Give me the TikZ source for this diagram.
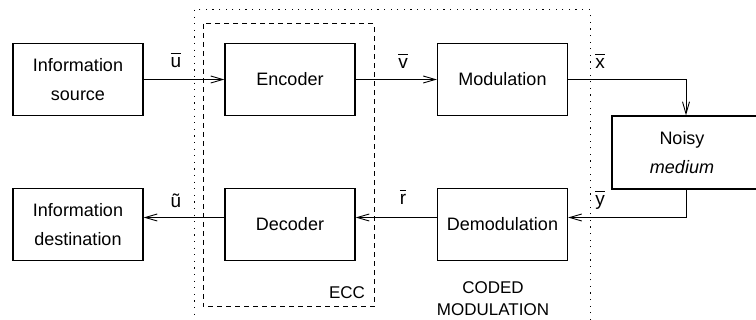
\documentclass[tikz,border=0pt]{standalone}
\usepackage{fontspec}
\setmainfont{Liberation Sans}
\usetikzlibrary{arrows.meta}
\newcommand\barsym[1]{\leavevmode\vbox{\hrule height 1.3pt\kern 3pt\hbox{#1}}}

\begin{document}
\begin{tikzpicture}[x=1pt,y=-1pt,
        block/.style={draw,line width=1.3,minimum width=130pt,minimum height=72pt,inner sep=0pt,align=center,font=\fontsize{18pt}{29pt}\selectfont},
        conn/.style={line width=0.9,-{Straight Barb[length=12pt,width=7pt]}},
        sym/.style={inner sep=0pt,font=\fontsize{19pt}{19pt}\selectfont},
        boxtext/.style={align=center,font=\fontsize{17pt}{22pt}\selectfont}]
               \clip (0,0) rectangle (756,320);
               % outer dotted box and inner dashed box
               \draw [line width=1, dash pattern=on 1.2pt off 5.4pt] (194,10) rectangle (590,330);
               \draw [line width=1, dash pattern=on 5pt off 4pt] (203,24) rectangle (374,307);
               % top row
               \node [block] (src) at (78,79.5) {Information\\source};
               \node [block] (enc) at (290,79.5) {Encoder};
               \node [block] (mod) at (502.5,79.5) {Modulation};
               % channel, right side runs off the page
               \node [block,minimum width=160pt,minimum height=73pt,text width=140pt] (noisy) at (692,152.5) {\hspace*{-20pt}Noisy\\\hspace*{-20pt}\textit{medium}};
               % bottom row
               \node [block] (dst) at (78,224.5) {Information\\destination};
               \node [block] (dec) at (290,224.5) {Decoder};
               \node [block] (demod) at (502.5,224.5) {Demodulation};
               % arrows
               \draw [conn] (src) -- (enc);
               \draw [conn] (enc) -- (mod);
               \draw [conn] (mod.east) -| ([xshift=-6pt]noisy.north);
               \draw [conn] ([xshift=-6pt]noisy.south) |- ([yshift=7pt]demod.east);
               \draw [conn] ([yshift=7pt]demod.west) -- ([yshift=7pt]dec.east);
               \draw [conn] ([yshift=7pt]dec.west) -- ([yshift=7pt]dst.east);
               % signal labels
               \node [sym] (lu) at (176,60) {\barsym{u}};
               \node [sym] (lv) at (403,61) {\barsym{v}};
               \node [sym] (lx) at (600,61) {\barsym{x}};
               \node [sym] (lut) at (176,201) {\~{u}};
               \node [sym] (lr) at (403,197) {\barsym{r}};
               \node [sym] (ly) at (600,200) {\barsym{y}};
               % box names
               \node [boxtext] (ecc) at (347,293) {ECC};
               \node [boxtext] (cm) at (493,299) {CODED\\MODULATION};
\end{tikzpicture}
\end{document}
